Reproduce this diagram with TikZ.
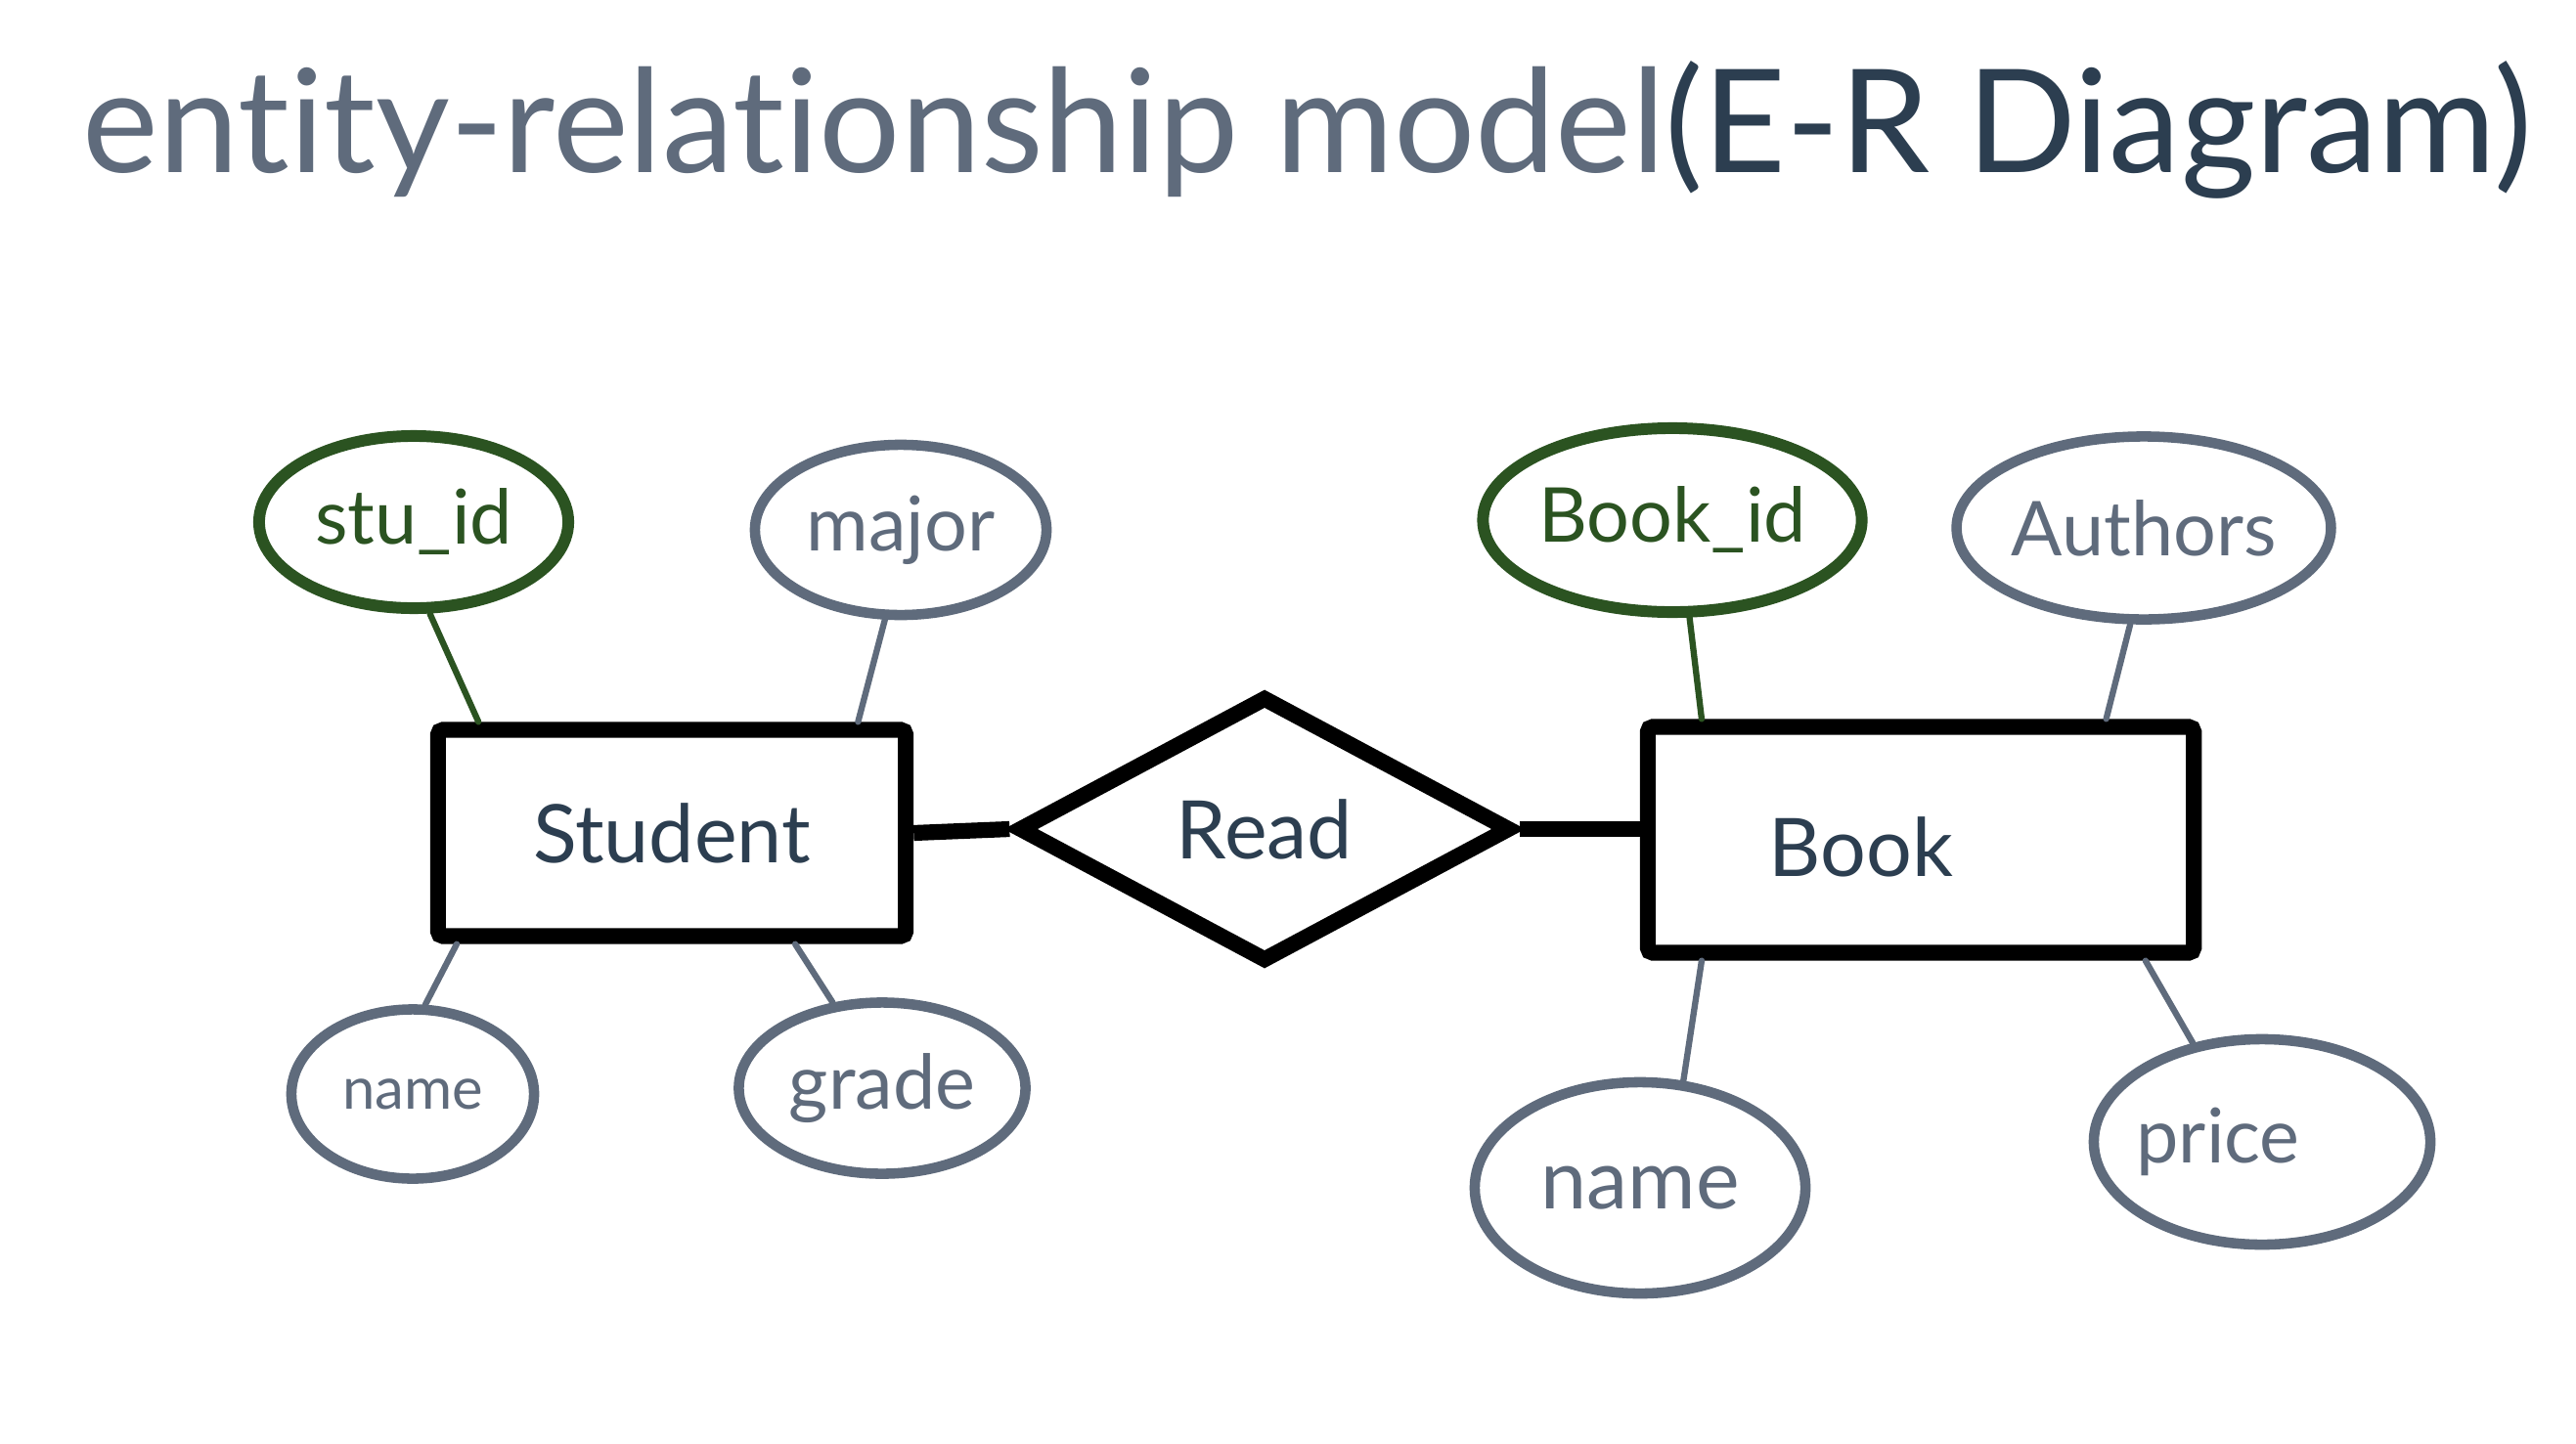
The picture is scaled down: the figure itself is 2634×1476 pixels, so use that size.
\documentclass[tikz,border=0pt]{standalone}
\usepackage{fontspec}
\setmainfont{Lato}[Ligatures=NoCommon]
\usetikzlibrary{shapes.geometric,calc}
\definecolor{slate}{HTML}{5F6B7C}
\definecolor{navy}{HTML}{2C3E50}
\definecolor{keygreen}{HTML}{2B5321}
\begin{document}
\begin{tikzpicture}[x=0.01cm,y=-0.01cm,
  entity/.style={draw=black,line width=4.6pt,fill=white,rectangle,rounded corners=1.5pt,inner sep=0pt,text=navy,font=\fontsize{23.5}{28}\selectfont},
  rel/.style={draw=black,line width=4.6pt,fill=white,diamond,inner sep=0pt,text=navy,font=\fontsize{23.5}{28}\selectfont},
  attr/.style={draw=slate,ellipse,line width=3pt,inner sep=0pt,text=slate,font=\fontsize{22}{26}\selectfont},
  keyattr/.style={attr,draw=keygreen,text=keygreen,line width=3.4pt},
  link/.style={draw=slate,line width=1.8pt,line cap=round},
  keylink/.style={link,draw=keygreen},
  relink/.style={draw=black,line width=4.6pt}]
\useasboundingbox[fill=white] (0,0) rectangle (2634,1476);

% title
\node[anchor=base west,inner sep=0pt,text=slate,font=\fontsize{41.8}{48}\selectfont] (title) at (84,176)
  {entity-relationship model\textcolor{navy}{(E-R Diagram)}};

% entities and relationship
\node[entity,minimum width=4.78cm,minimum height=2.11cm] (student) at (687,852) {Student};
\node[entity,minimum width=5.58cm,minimum height=2.31cm] (book) at (1964,859) {};
\node[text=navy,font=\fontsize{23.5}{28}\selectfont,inner sep=0pt] (booklabel) at (1903,866) {Book};
\node[rel,minimum width=5.05cm,minimum height=2.73cm] (read) at (1293,848) {Read};

\draw[relink] (student.east) -- (read.west);
\draw[relink] (read.east) -- (read.east -| book.west);

% attributes
\node[keyattr,minimum width=3.16cm,minimum height=1.76cm] (stuid) at (423,534) {stu\_id};
\node[attr,minimum width=2.98cm,minimum height=1.74cm] (major) at (921,542) {major};
\node[attr,minimum width=2.48cm,minimum height=1.73cm,font=\fontsize{17}{20}\selectfont] (sname) at (422,1119) {name};
\node[attr,minimum width=2.93cm,minimum height=1.75cm] (grade) at (902,1113) {grade};

\node[keyattr,minimum width=3.20cm,minimum height=1.88cm] (bookid) at (1710,532) {Book\_id};
\node[attr,minimum width=3.54cm,minimum height=1.87cm] (authors) at (2192,540) {Authors};
\node[attr,minimum width=3.38cm,minimum height=2.16cm,font=\fontsize{24}{28}\selectfont] (bname) at (1677,1215) {name};
\node[attr,minimum width=3.44cm,minimum height=2.10cm] (price) at (2313,1168) {};
\node[text=slate,font=\fontsize{22}{26}\selectfont,inner sep=0pt] (pricelabel) at (2268,1168) {price};

% attribute links
\draw[keylink] (stuid.-80) -- ($(student.north west)!0.10!(student.north east)$);
\draw[link] (major.-100) -- ($(student.north west)!0.885!(student.north east)$);
\draw[link] (sname.82) -- ($(student.south west)!0.055!(student.south east)$);
\draw[link] (grade.120) -- ($(student.south west)!0.755!(student.south east)$);

\draw[keylink] (bookid.-80) -- ($(book.north west)!0.11!(book.north east)$);
\draw[link] (authors.-98) -- ($(book.north west)!0.83!(book.north east)$);
\draw[link] (bname.68) -- ($(book.south west)!0.11!(book.south east)$);
\draw[link] (price.125) -- ($(book.south west)!0.90!(book.south east)$);
\end{tikzpicture}
\end{document}
